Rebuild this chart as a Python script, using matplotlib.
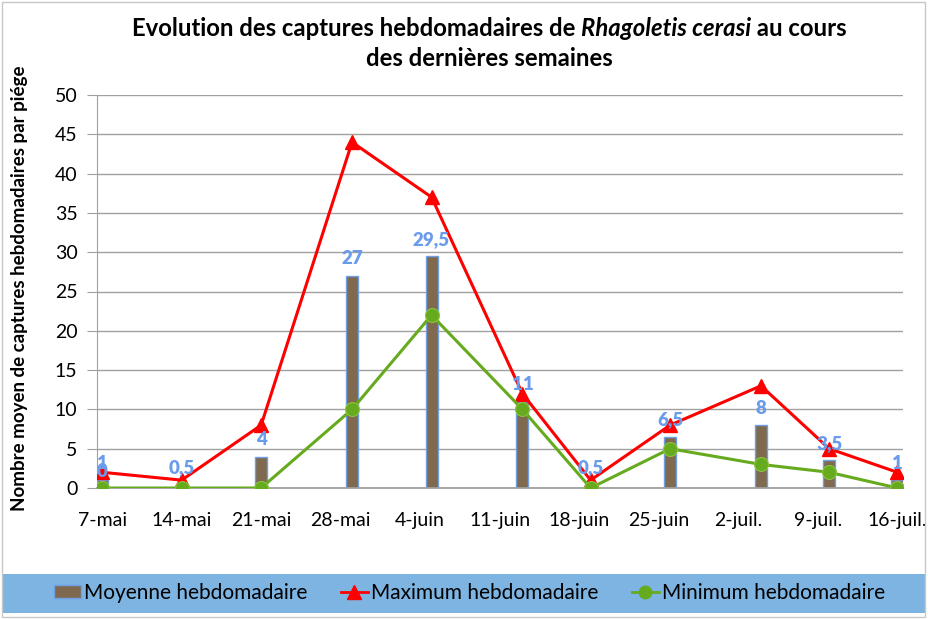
import matplotlib
matplotlib.use("Agg")
import matplotlib.pyplot as plt
from matplotlib.patches import Rectangle
from matplotlib.lines import Line2D
from matplotlib.patches import Patch

plt.rcParams['font.family'] = ['Lato', 'DejaVu Sans']

# relevés (jours depuis le 7 mai)
sample_days = [0, 7, 14, 22, 29, 37, 43, 50, 58, 64, 70]
moyenne = [1, 0.5, 4, 27, 29.5, 11, 0.5, 6.5, 8, 3.5, 1]
maximum = [2, 1, 8, 44, 37, 12, 1, 8, 13, 5, 2]
minimum = [0, 0, 0, 10, 22, 10, 0, 5, 3, 2, 0]
week_labels = ['7-mai', '14-mai', '21-mai', '28-mai', '4-juin', '11-juin',
               '18-juin', '25-juin', '2-juil.', '9-juil.', '16-juil.']

W, H = 929, 619
fig = plt.figure(figsize=(W / 100, H / 100), dpi=100)
ax = fig.add_axes([97 / W, 1 - 488 / H, (903 - 97) / W, (488 - 95) / H])

ax.bar(sample_days, moyenne, width=1.05, color='#7F6A50', edgecolor='#6E9FE8',
       linewidth=1, zorder=2)
ax.plot(sample_days, maximum, color='#FF0000', lw=2.2, marker='^', ms=10,
        zorder=3)
ax.plot(sample_days, minimum, color='#66AA1E', lw=2.2, marker='o', ms=10,
        markeredgecolor='#8CC43C', markeredgewidth=0.8, zorder=4)

lbl_color = '#6A9CEC'
for d, v in zip(sample_days, moyenne):
    txt = ('%g' % v).replace('.', ',')
    ax.annotate(txt, (d, v), xytext=(0, 6), textcoords='offset points',
                ha='center', va='bottom', color=lbl_color, fontsize=13.5,
                fontweight='heavy', zorder=5)
# étiquette restée sur le premier minimum
ax.annotate('0', (sample_days[0], minimum[0]), xytext=(0, 6),
            textcoords='offset points', ha='center', va='bottom',
            color=lbl_color, fontsize=13.5, fontweight='heavy', zorder=5)

ax.set_xlim(-0.45, 70.5)
ax.set_ylim(0, 50)
ax.set_yticks(range(0, 51, 5))
ax.set_xticks([7 * i for i in range(len(week_labels))])
ax.set_xticklabels(week_labels)
ax.tick_params(axis='x', length=0, pad=17, labelsize=14)
ax.tick_params(axis='y', length=7, color='#A0A0A0', pad=7, labelsize=14)
ax.grid(axis='y', color='#A0A0A0', lw=1, zorder=0)
ax.set_axisbelow(True)
for s in ['top', 'right']:
    ax.spines[s].set_visible(False)
ax.spines['left'].set_color('#A0A0A0')
ax.spines['bottom'].set_color('#A0A0A0')
ax.spines['bottom'].set_linewidth(1.3)

fig.text(20 / W, 1 - 288 / H, 'Nombre moyen de captures hebdomadaires par piége',
         rotation=90, ha='center', va='center', fontsize=13.5, fontweight='bold')

# titre sur deux lignes avec le nom latin en italique
parts = [('Evolution des captures hebdomadaires de ', 'normal'),
         ('Rhagoletis cerasi', 'italic'),
         (' au cours', 'normal')]
renderer = fig.canvas.get_renderer()
tsize = 17.2
pieces = []
total = 0
for s, st in parts:
    t = fig.text(0, 1 - 28 / H, s, fontsize=tsize, fontweight='bold', style=st,
                 ha='left', va='center')
    w = t.get_window_extent(renderer).width
    pieces.append((t, w))
    total += w
x0 = 489.5 - total / 2
for t, w in pieces:
    t.set_x(x0 / W)
    x0 += w
fig.text(489.5 / W, 1 - 58 / H, 'des dernières semaines', fontsize=tsize,
         fontweight='bold', ha='center', va='center')

# bandeau de légende
fig.patches.append(Rectangle((3 / W, 1 - 613 / H), 922 / W, 39 / H,
                             transform=fig.transFigure, facecolor='#7EB4E2',
                             edgecolor='none', zorder=0))
fig.patches.append(Rectangle((2 / W, 2 / H), 923 / W, 615 / H,
                             transform=fig.transFigure, facecolor='none',
                             edgecolor='#C8C8C8', lw=1, zorder=1))
handles = [Patch(facecolor='#7F6A50', edgecolor='#6E9FE8'),
           Line2D([], [], color='#FF0000', lw=2, marker='^', ms=10),
           Line2D([], [], color='#66AA1E', lw=2, marker='o', ms=9)]
fig.legend(handles, ['Moyenne hebdomadaire', 'Maximum hebdomadaire',
                     'Minimum hebdomadaire'],
           loc='center', bbox_to_anchor=(469.5 / W, 1 - 593 / H), ncol=3,
           frameon=False, fontsize=15, handlelength=1.3, handleheight=0.6,
           handletextpad=0.15, columnspacing=1.6)

fig.savefig('out.png', dpi=100)
